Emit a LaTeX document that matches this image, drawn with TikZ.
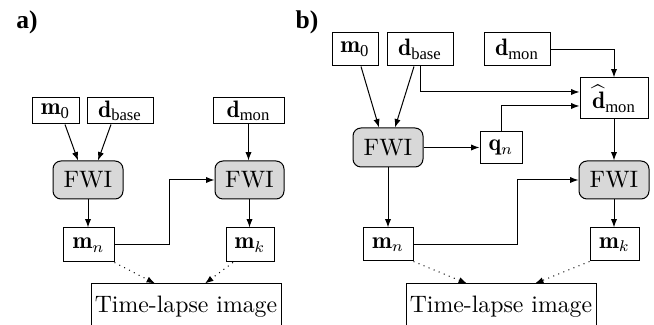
\documentclass[tikz,border=0pt]{standalone}
\usepackage{amsmath}
\usepackage{fontspec}
\newfontfamily\tnr{Liberation Serif}
\usetikzlibrary{arrows.meta,calc}
\newcommand\sbt[1]{\text{\tnr #1}}
\definecolor{fwigray}{RGB}{216,216,216}
\begin{document}
\begin{tikzpicture}[x=0.45pt,y=-0.45pt,
  sz/.style 2 args={minimum width=#1*0.45pt, minimum height=#2*0.45pt},
  box/.style={draw, line width=0.45pt, inner sep=0pt, fill=white,
    font=\fontsize{10.7}{13}\selectfont},
  fwi/.style={box, fill=fwigray, rounded corners=3.6pt},
  flow/.style={line width=0.45pt, -{Latex[length=3.8pt,width=2.8pt]}},
  link/.style={flow, dotted},
  panel/.style={font=\tnr\fontsize{11.5}{13}\selectfont\bfseries}]
\useasboundingbox (0,0) rectangle (654,325);

% ---- panel a ----
\node[panel] (la) at (27,22) {a)};
\node[box, sz={47}{26}] (m0a) at (55.5,111) {$\mathbf{m}_{\sbt{0}}$};
\node[box, sz={66}{26}] (dba) at (120,111) {$\mathbf{d}_{\sbt{base}}$};
\node[box, sz={71}{26}] (dma) at (248.5,111) {$\mathbf{d}_{\sbt{mon}}$};
\node[fwi, sz={70}{38}] (fa1) at (88,180) {FWI};
\node[fwi, sz={69}{38}] (fa2) at (249.5,180) {FWI};
\node[box, sz={51}{34}] (mna) at (88.5,245) {$\mathbf{m}_n$};
\node[box, sz={48}{34}] (mka) at (250,245) {$\mathbf{m}_k$};
\node[box, sz={190}{46}] (tla) at (186,307) {Time-lapse image};

\draw[flow] ($(m0a.south)+(9.5,0)$) -- ($(fa1.north)+(-10,0)$);
\draw[flow] ($(dba.south)+(-9,0)$) -- ($(fa1.north)+(10,0)$);
\draw[flow] (dma.south) -- (dma.south |- fa2.north);
\draw[flow] (fa1.south) -- (fa1.south |- mna.north);
\draw[flow] (mna.east) -- ++(55,0) |- (fa2.west);
\draw[flow] (fa2.south) -- (fa2.south |- mka.north);
\draw[link] (mna.south east) -- ($(tla.north)+(-31,0)$);
\draw[link] ($(mka.south)+(-17,0)$) -- ($(tla.north)+(19,0)$);

% ---- panel b ----
\node[panel] (lb) at (307,22) {b)};
\node[box, sz={46}{33}] (m0b) at (355,49.5) {$\mathbf{m}_{\sbt{0}}$};
\node[box, sz={66}{33}] (dbb) at (420,49.5) {$\mathbf{d}_{\sbt{base}}$};
\node[box, sz={66}{33}] (dmb) at (517,49.5) {$\mathbf{d}_{\sbt{mon}}$};
\node[box, sz={68}{41}] (dhb) at (614,98.5) {$\widehat{\mathbf{d}}_{\sbt{mon}}$};
\node[fwi, sz={70}{39}] (fb1) at (388,147.5) {FWI};
\node[box, sz={42}{32}] (qnb) at (501,147.5) {$\mathbf{q}_n$};
\node[fwi, sz={70}{38}] (fb2) at (614,180) {FWI};
\node[box, sz={50}{33}] (mnb) at (388,244.5) {$\mathbf{m}_n$};
\node[box, sz={49}{33}] (mkb) at (614.5,244.5) {$\mathbf{m}_k$};
\node[box, sz={190}{46}] (tlb) at (501,307) {Time-lapse image};

\draw[flow] ($(m0b.south)+(6,0)$) -- ($(fb1.north)+(-9,0)$);
\draw[flow] ($(dbb.south)+(-6,0)$) -- ($(fb1.north)+(7,0)$);
\draw[flow] (dbb.south) |- ($(dhb.west)+(0,-6.5)$);
\draw[flow] (qnb.north) |- ($(dhb.west)+(0,7.5)$);
\draw[flow] (dmb.east) -| (dhb.north);
\draw[flow] (fb1.east) -- (qnb.west);
\draw[flow] (dhb.south) -- (dhb.south |- fb2.north);
\draw[flow] (fb1.south) -- (fb1.south |- mnb.north);
\draw[flow] (mnb.east) -- ++(104,0) |- (fb2.west);
\draw[flow] (fb2.south) -- (fb2.south |- mkb.north);
\draw[link] (mnb.south east) -- ($(tlb.north)+(-34,0)$);
\draw[link] (mkb.south west) -- ($(tlb.north)+(34,0)$);
\end{tikzpicture}
\end{document}
